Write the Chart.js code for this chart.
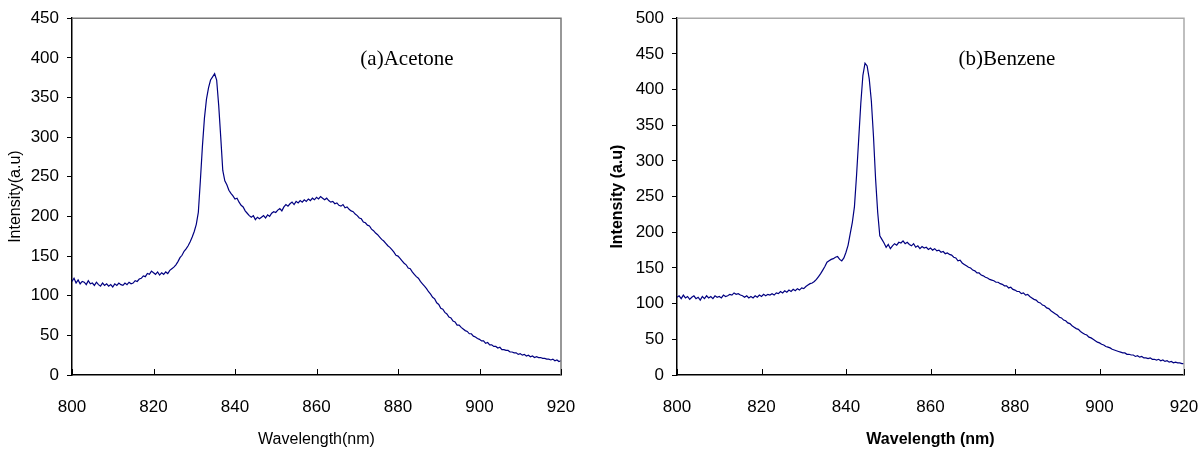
<!DOCTYPE html>
<html>
<head>
<meta charset="utf-8">
<script src="https://cdn.jsdelivr.net/npm/chart.js@4/dist/chart.umd.min.js"></script>
<style>
  html, body { margin: 0; padding: 0; background: #fff; }
  #wrapA { position: absolute; left: 0; top: 0; width: 590px; height: 449px; }
  #wrapB { position: absolute; left: 590px; top: 0; width: 609px; height: 449px; }
</style>
</head>
<body>
<div id="wrapA"><canvas id="chartA"></canvas></div>
<div id="wrapB"><canvas id="chartB"></canvas></div>
<script>
// sampling grid: 800 nm to 920 nm every 0.5 nm
const wlStart = 800;
const wlStep = 0.5;
const xTicks = [800, 820, 840, 860, 880, 900, 920];

// (a) Acetone, intensity
const acetone = [
  118,122,116,120,115,118,117,114,119,115, 116,113,117,114,112,116,113,115,112,114,
  111,115,113,116,114,113,116,114,117,115, 116,119,118,121,122,125,124,128,127,131,
  129,127,130,126,129,127,130,128,132,134, 136,139,143,148,151,156,159,163,168,174,
  181,190,205,245,288,324,348,362,372,376, 380,372,340,300,258,245,240,233,229,226,
  222,223,218,214,212,207,204,201,199,201, 196,199,197,199,201,198,202,200,204,206,
  205,208,210,207,212,215,213,216,218,215, 219,217,220,218,221,219,222,220,223,221,
  224,222,225,223,221,223,220,218,219,216, 217,214,213,215,211,212,209,207,206,203,
  201,198,197,193,192,189,188,184,182,179, 177,174,171,169,166,163,161,158,155,151,
  150,147,144,141,139,135,134,130,127,124, 122,118,115,112,109,105,102,98,96,91,
  89,84,83,79,77,73,72,68,67,63, 63,60,58,56,55,52,52,49,48,46,
  45,43,43,40,41,38,38,36,36,34, 35,32,32,31,31,29,29,28,28,26,
  27,25,26,24,25,23,24,22,23,22, 22,21,21,20,20,19,20,18,19,17,
  18
];

// (b) Benzene
const benzene = [
  109,111,107,112,108,110,106,109,111,107, 109,105,110,107,111,108,110,107,111,109,
  110,108,112,110,111,113,112,115,113,114, 112,111,109,111,108,110,108,111,109,112,
  110,113,111,113,112,114,112,115,114,117, 115,118,116,119,117,120,118,121,119,122,
  121,124,126,128,129,131,134,138,142,147, 152,158,160,162,163,165,166,162,160,164,
  172,182,198,214,236,280,330,380,420,437, 433,415,384,335,275,228,195,190,185,179,
  183,177,181,184,182,186,185,188,184,186, 183,181,184,179,181,177,180,178,179,176,
  178,175,177,174,175,172,173,170,171,169, 168,165,164,160,161,157,155,153,151,150,
  147,146,143,143,140,139,137,136,134,133, 132,130,130,128,127,125,125,122,123,120,
  119,117,117,114,115,112,113,110,108,106, 105,102,101,98,97,94,93,90,88,86,
  84,81,80,77,76,73,72,69,67,65, 64,61,59,57,56,53,52,50,48,46,
  45,43,42,40,39,38,36,35,34,33, 32,31,31,29,29,28,28,26,27,25,
  26,24,24,23,24,22,22,21,22,20, 21,19,20,18,19,17,18,17,17,16,
  16
];

const lineColor = '#000080';

function toPoints(values) {
  return values.map((v, i) => ({ x: wlStart + i * wlStep, y: v }));
}

// frame on top/right, inward x ticks, panel caption
const framePlugin = {
  id: 'frame',
  afterDraw(chart, args, opts) {
    const { ctx, chartArea: a, scales } = chart;
    ctx.save();
    ctx.strokeStyle = opts.frameColor;
    ctx.lineWidth = 1.5;
    ctx.beginPath();
    ctx.moveTo(a.left, a.top);
    ctx.lineTo(a.right, a.top);
    ctx.lineTo(a.right, a.bottom);
    ctx.stroke();

    ctx.strokeStyle = '#000';
    ctx.lineWidth = 1;
    ctx.beginPath();
    xTicks.forEach(t => {
      const px = Math.round(scales.x.getPixelForValue(t)) + 0.5;
      ctx.moveTo(px, a.bottom);
      ctx.lineTo(px, a.bottom - 6);
    });
    ctx.stroke();

    ctx.fillStyle = '#000';
    ctx.font = '21px "Liberation Serif", "Times New Roman", serif';
    ctx.textAlign = 'center';
    ctx.textBaseline = 'middle';
    ctx.fillText(opts.caption, opts.captionX, opts.captionY);
    ctx.restore();
  }
};

function makeChart(id, values, cfg) {
  const ctx = document.getElementById(id).getContext('2d');
  return new Chart(ctx, {
    type: 'line',
    data: {
      datasets: [{
        data: toPoints(values),
        borderColor: lineColor,
        borderWidth: 1.2,
        pointRadius: 0,
        tension: 0,
        fill: false
      }]
    },
    options: {
      responsive: true,
      maintainAspectRatio: false,
      animation: false,
      events: [],
      layout: { padding: { top: 16, right: cfg.padRight, left: 0, bottom: 0 } },
      plugins: {
        legend: { display: false },
        tooltip: { enabled: false },
        frame: { frameColor: cfg.frameColor, caption: cfg.caption, captionX: cfg.captionX, captionY: 59 }
      },
      scales: {
        x: {
          type: 'linear',
          min: 800,
          max: 920,
          afterBuildTicks: s => { s.ticks = xTicks.map(v => ({ value: v })); },
          afterFit: s => { s.height = 74; s.paddingLeft = 0; s.paddingRight = 0; },
          grid: { display: false, drawTicks: false },
          border: { color: '#000', width: 1.5 },
          ticks: {
            color: '#000',
            padding: 22,
            maxRotation: 0,
            font: { family: '"Liberation Sans", Arial, sans-serif', size: 17 }
          },
          title: {
            display: true,
            text: cfg.xTitle,
            color: '#000',
            padding: { top: 5, bottom: 0 },
            font: { family: '"Liberation Sans", Arial, sans-serif', size: 16, weight: cfg.bold ? 'bold' : 'normal' }
          }
        },
        y: {
          min: 0,
          max: cfg.yMax,
          afterFit: s => { s.width = cfg.yWidth; },
          grid: { drawOnChartArea: false, drawTicks: true, tickLength: 5, color: '#000' },
          border: { color: '#000', width: 1.5 },
          ticks: {
            stepSize: 50,
            color: '#000',
            padding: 8,
            font: { family: '"Liberation Sans", Arial, sans-serif', size: 17 }
          },
          title: {
            display: true,
            text: cfg.yTitle,
            color: '#000',
            padding: { top: cfg.yTitlePad, bottom: 2 },
            font: { family: '"Liberation Sans", Arial, sans-serif', size: 16, weight: cfg.bold ? 'bold' : 'normal' }
          }
        }
      }
    },
    plugins: [framePlugin]
  });
}

makeChart('chartA', acetone, {
  yMax: 450, yWidth: 72, padRight: 29, frameColor: '#777', yTitlePad: 6,
  caption: '(a)Acetone', captionX: 407,
  xTitle: 'Wavelength(nm)', yTitle: 'Intensity(a.u)', bold: false
});

makeChart('chartB', benzene, {
  yMax: 500, yWidth: 87, padRight: 15, frameColor: '#aaa', yTitlePad: 18,
  caption: '(b)Benzene', captionX: 417,
  xTitle: 'Wavelength (nm)', yTitle: 'Intensity (a.u)', bold: true
});
</script>
</body>
</html>
